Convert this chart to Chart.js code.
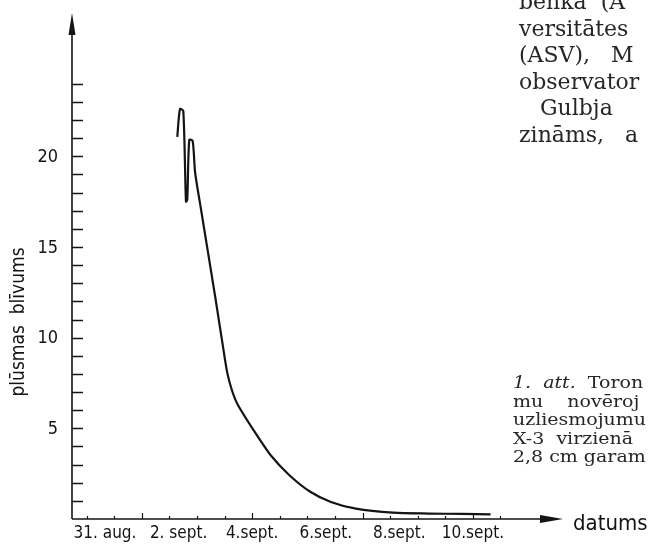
<!DOCTYPE html>
<html lang="lv">
<head>
<meta charset="utf-8">
<title>plūsmas blīvums</title>
<script src="https://cdn.jsdelivr.net/npm/chart.js@4.4.1/dist/chart.umd.min.js"></script>
<style>
  html, body { margin: 0; padding: 0; background: #fff; overflow: hidden; }
  #wrap { position: relative; width: 649px; height: 544px; overflow: hidden; }
  #fluxChart { position: absolute; left: 0; top: 0; }
  .page-text {
    position: absolute;
    font-family: "DejaVu Serif", "Liberation Serif", serif;
    color: #262626;
    white-space: nowrap;
    transform-origin: 0 0;
  }
  #bodyText { left: 519px; top: -11px; font-size: 22px; line-height: 26.5px; }
  #caption { left: 513px; top: 374px; font-size: 16.5px; line-height: 18.5px; transform: scaleX(1.15); }
</style>
</head>
<body>
<div id="wrap">
  <canvas id="fluxChart" width="649" height="544"></canvas>
  <div class="page-text" id="bodyText">benka&nbsp; (A<br>versitātes<br>(ASV),&nbsp;&nbsp; M<br>observator<br>&nbsp;&nbsp;&nbsp;Gulbja<br>zināms,&nbsp;&nbsp; a</div>
  <div class="page-text" id="caption"><i>1.&nbsp; att.</i>&nbsp; Toron<br>mu&nbsp;&nbsp;&nbsp; novēroj<br>uzliesmojumu<br>X-3&nbsp; virzienā<br>2,8 cm garam</div>
</div>
<script>
// day of month (31 = 31 Aug, 32 = 1 Sep, ...) and flux density
const days = [32.965, 33.038, 33.128, 33.201, 33.236, 33.291, 33.383, 33.45, 33.6, 33.8, 34.0,
  34.2, 34.32, 34.45, 34.61, 35.07, 35.51, 36.02, 36.58, 37.14, 37.82, 38.83, 39.8, 40.7, 41.48];
const flux = [21.07, 22.6, 22.5, 17.5, 17.6, 20.9, 20.85, 19.1, 17.2, 14.7, 12.2,
  9.6, 8.1, 7.1, 6.3, 4.8, 3.5, 2.4, 1.5, 0.94, 0.57, 0.35, 0.3, 0.28, 0.26];

const dateTicks = [31, 33, 35, 37, 39, 41];
const dateLabels = ["31. aug.", "2. sept.", "4.sept.", "6.sept.", "8.sept.", "10.sept."];
const fluxTicks = [5, 10, 15, 20];

const ink = "#141414";
const letterFont = '"DejaVu Sans Condensed", "Liberation Sans Narrow", "Roboto Condensed", "DejaVu Sans", sans-serif';

const handAxes = {
  id: "handAxes",
  afterDraw(chart) {
    const ctx = chart.ctx;
    const x = chart.scales.x;
    const y = chart.scales.y;
    const left = chart.chartArea.left;
    const top = chart.chartArea.top;
    const right = chart.chartArea.right;
    const base = y.getPixelForValue(0);

    ctx.save();
    ctx.strokeStyle = ink;
    ctx.fillStyle = ink;
    ctx.lineWidth = 1.6;

    // axes with arrow heads
    ctx.beginPath();
    ctx.moveTo(left, base);
    ctx.lineTo(left, top + 18);
    ctx.moveTo(left, base);
    ctx.lineTo(right - 18, base);
    ctx.stroke();

    ctx.beginPath();
    ctx.moveTo(left, top);
    ctx.lineTo(left - 3.5, top + 22);
    ctx.lineTo(left + 3.5, top + 22);
    ctx.closePath();
    ctx.fill();

    ctx.beginPath();
    ctx.moveTo(right, base);
    ctx.lineTo(right - 23, base - 4);
    ctx.lineTo(right - 23, base + 4);
    ctx.closePath();
    ctx.fill();

    // y ticks, pointing inward
    ctx.lineWidth = 1.5;
    ctx.beginPath();
    y.ticks.forEach((t) => {
      const py = Math.round(y.getPixelForValue(t.value)) + 0.5;
      ctx.moveTo(left, py);
      ctx.lineTo(left + 11, py);
    });
    ctx.stroke();

    // x ticks: whole days taller, quarter days short
    ctx.lineWidth = 1.2;
    ctx.beginPath();
    x.ticks.forEach((t) => {
      const px = Math.round(x.getPixelForValue(t.value)) + 0.5;
      const whole = Math.abs(t.value - Math.round(t.value)) < 1e-6;
      ctx.moveTo(px, base);
      ctx.lineTo(px, base - (whole ? 6 : 3));
    });
    ctx.stroke();

    // tick labels
    ctx.font = "18px " + letterFont;
    ctx.textAlign = "right";
    ctx.textBaseline = "middle";
    fluxTicks.forEach((v) => {
      ctx.fillText(String(v), left - 14, y.getPixelForValue(v) + 1);
    });

    ctx.font = "17px " + letterFont;
    ctx.textAlign = "center";
    dateTicks.forEach((d, i) => {
      ctx.fillText(dateLabels[i], x.getPixelForValue(d), base + 15);
    });

    // axis titles
    ctx.font = "22px " + letterFont;
    ctx.textAlign = "left";
    ctx.fillText("datums", right + 10, base + 5);

    ctx.save();
    ctx.translate(19, 322);
    ctx.rotate(-Math.PI / 2);
    ctx.font = "19px " + letterFont;
    ctx.textAlign = "center";
    ctx.fillText("plūsmas  blīvums", 0, 0);
    ctx.restore();

    ctx.restore();
  },
};

const fluxCtx = document.getElementById("fluxChart").getContext("2d");

const fluxChart = new Chart(fluxCtx, {
  type: "line",
  data: {
    datasets: [
      {
        data: days.map((d, i) => ({ x: d, y: flux[i] })),
        borderColor: ink,
        borderWidth: 2.2,
        pointRadius: 0,
        tension: 0.25,
        fill: false,
      },
    ],
  },
  options: {
    responsive: false,
    animation: false,
    layout: {
      padding: { left: 72, top: 13, right: 86, bottom: 25 },
    },
    scales: {
      x: {
        type: "linear",
        display: false,
        min: 30.103,
        max: 43.45,
        ticks: { stepSize: 0.25 },
        afterBuildTicks: (scale) => {
          scale.ticks = scale.ticks.filter(
            (t) => t.value > 30.2 && t.value < 42.3 && Math.abs(t.value * 4 - Math.round(t.value * 4)) < 1e-6
          );
        },
      },
      y: {
        display: false,
        min: 0,
        max: 27.9,
        ticks: { stepSize: 1 },
        afterBuildTicks: (scale) => {
          scale.ticks = scale.ticks.filter(
            (t) => t.value >= 1 && t.value <= 24 && Math.abs(t.value - Math.round(t.value)) < 1e-6
          );
        },
      },
    },
    plugins: {
      legend: { display: false },
      tooltip: { enabled: false },
    },
  },
  plugins: [handAxes],
});
</script>
</body>
</html>
